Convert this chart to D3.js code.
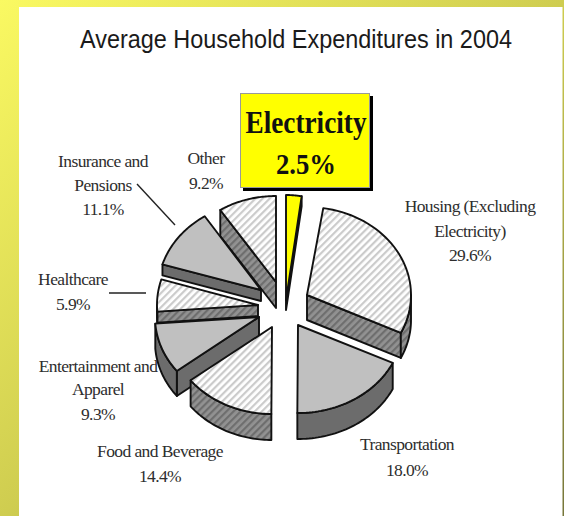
<!DOCTYPE html>
<html>
<head>
<meta charset="utf-8">
<script src="https://cdn.jsdelivr.net/npm/d3@7"></script>
<style>
  html, body { margin: 0; padding: 0; background: #fff; }
  svg { display: block; }
  .label { font-family: "Liberation Serif", serif; font-size: 17.5px; fill: #2e2e2e; text-anchor: middle; letter-spacing: -0.6px; }
</style>
</head>
<body>
<div id="chart"></div>
<script>
// Household budget shares, clockwise from twelve o'clock
const categories = ["Electricity", "Housing", "Transportation", "Food and Beverage",
  "Entertainment and Apparel", "Healthcare", "Insurance and Pensions", "Other"];
const shares = [2.5, 29.6, 18.0, 14.4, 9.3, 5.9, 11.1, 9.2];
const chartTitle = "Average Household Expenditures in 2004";
const calloutLines = ["Electricity", "2.5%"];

// Wrapped label text for each category (the percentage is appended from shares)
const labelText = [
  [],
  ["Housing (Excluding", "Electricity)"],
  ["Transportation"],
  ["Food and Beverage"],
  ["Entertainment and", "Apparel"],
  ["Healthcare"],
  ["Insurance and", "Pensions"],
  ["Other"]
];

// Exploded position and extrusion of every wedge: [apexX, apexY, radiusX, radiusY, depth]
const wedgeLayout = [
  [286, 300, 100, 105, 10],
  [307, 295, 104, 88, 25],
  [298, 325, 105, 88, 26],
  [272, 327, 103, 87, 26],
  [259, 317, 104, 88, 25],
  [258, 305, 101, 88, 11],
  [261, 290, 103, 88, 11],
  [276, 282, 102, 86, 26]
];
const wedgeStyle = ["yellow", "hatch", "solid", "hatch", "solid", "hatch", "solid", "hatch"];
const paintOrder = [7, 6, 0, 1, 5, 4, 2, 3];

// Label anchors: [centerX, [baseline of each line]]
const labelAnchors = [
  null,
  [470, [212, 237, 261]],
  [407, [450, 476]],
  [160, [457, 482]],
  [98, [372, 395, 420]],
  [73, [285, 310]],
  [103, [167, 191, 215]],
  [206, [164, 189]]
];
const leaderLines = [
  [[137, 184], [175, 225]],
  [[109, 293], [146, 293]]
];

const width = 564, height = 516;
const svg = d3.select("#chart").append("svg").attr("width", width).attr("height", height);
const defs = svg.append("defs");

// Frame gradient
const frame = defs.append("linearGradient").attr("id", "frame")
  .attr("x1", 0).attr("y1", 0).attr("x2", 1).attr("y2", 1);
frame.append("stop").attr("offset", "0%").attr("stop-color", "#faf962");
frame.append("stop").attr("offset", "50%").attr("stop-color", "#cfcd50");
frame.append("stop").attr("offset", "100%").attr("stop-color", "#76763a");

function hatch(id, ground, stripe) {
  const p = defs.append("pattern").attr("id", id)
    .attr("patternUnits", "userSpaceOnUse")
    .attr("width", 5).attr("height", 5)
    .attr("patternTransform", "rotate(45)");
  p.append("rect").attr("width", 5).attr("height", 5).attr("fill", ground);
  p.append("rect").attr("width", 2.2).attr("height", 5).attr("fill", stripe);
}
hatch("topHatch", "#ffffff", "#cbcbcb");
hatch("wallHatch", "#929292", "#6e6e6e");

const faceFill = { yellow: "#ffff00", hatch: "url(#topHatch)", solid: "#c0c0c0" };
const wallFill = { yellow: "#77771a", hatch: "url(#wallHatch)", solid: "#6c6c6c" };

svg.append("rect").attr("width", width).attr("height", height).attr("fill", "url(#frame)");
svg.append("rect").attr("x", 19).attr("y", 7).attr("width", 543.5).attr("height", height).attr("fill", "#fff");

svg.append("text").attr("x", 296).attr("y", 48)
  .attr("text-anchor", "middle")
  .attr("font-family", "'Liberation Sans', sans-serif")
  .attr("font-size", 26).attr("fill", "#1a1a1a")
  .attr("textLength", 432).attr("lengthAdjust", "spacingAndGlyphs")
  .text(chartTitle);

const arcs = d3.pie().sort(null).value(d => d).startAngle(0).endAngle(2 * Math.PI)(shares);
const line = d3.line();
const pointAt = (g, a, drop = 0) => [g[0] + g[2] * Math.sin(a), g[1] - g[3] * Math.cos(a) + drop];
const sweep = (a0, a1) => d3.range(0, 41).map(i => a0 + (a1 - a0) * i / 40);

const pieLayer = svg.append("g")
  .attr("stroke", "#111").attr("stroke-width", 1.9).attr("stroke-linejoin", "round");

paintOrder.forEach(i => {
  const arc = arcs[i], g = wedgeLayout[i], style = wedgeStyle[i];
  const apex = [g[0], g[1]], depth = g[4];
  const a0 = arc.startAngle, a1 = arc.endAngle;

  const wall = pts => pieLayer.append("path")
    .attr("d", line(pts) + "Z").attr("fill", wallFill[style]);

  // Radial cut walls that face the viewer
  [[a0, -Math.sin(a0)], [a1, Math.sin(a1)]].forEach(([a, facing]) => {
    if (facing > 0.01) {
      const rim = pointAt(g, a);
      wall([apex, rim, [rim[0], rim[1] + depth], [apex[0], apex[1] + depth]]);
    }
  });

  // Rim wall on the front half of the ellipse
  const lo = Math.max(a0, Math.PI / 2), hi = Math.min(a1, 3 * Math.PI / 2);
  if (hi > lo) {
    const along = sweep(lo, hi);
    wall(along.map(a => pointAt(g, a)).concat(along.slice().reverse().map(a => pointAt(g, a, depth))));
  }

  // Top face
  pieLayer.append("path")
    .attr("d", line([apex].concat(sweep(a0, a1).map(a => pointAt(g, a)))) + "Z")
    .attr("fill", faceFill[style]);
});

// Callout box for the highlighted category
const box = svg.append("g");
box.append("rect").attr("x", 243).attr("y", 96).attr("width", 130).attr("height", 95).attr("fill", "#000");
box.append("rect").attr("x", 240.5).attr("y", 93.5).attr("width", 129).attr("height", 94)
  .attr("fill", "#ffff00").attr("stroke", "#999").attr("stroke-width", 1);
box.selectAll("text").data(calloutLines).join("text")
  .attr("x", 306).attr("y", (d, i) => i === 0 ? 133 : 174)
  .attr("text-anchor", "middle")
  .attr("font-family", "'Liberation Serif', serif").attr("font-weight", "bold")
  .attr("font-size", (d, i) => i === 0 ? 31 : 29)
  .attr("textLength", (d, i) => i === 0 ? 121 : 60)
  .attr("lengthAdjust", "spacingAndGlyphs")
  .attr("fill", "#111")
  .text(d => d);

// Category labels
categories.forEach((name, i) => {
  const anchor = labelAnchors[i];
  if (!anchor) return;
  const lines = labelText[i].concat(d3.format(".1f")(shares[i]) + "%");
  svg.append("g").selectAll("text").data(lines).join("text")
    .attr("class", "label")
    .attr("x", anchor[0])
    .attr("y", (d, k) => anchor[1][k])
    .text(d => d);
});

svg.append("g").selectAll("path").data(leaderLines).join("path")
  .attr("d", d => line(d))
  .attr("stroke", "#222").attr("stroke-width", 1.4).attr("fill", "none");
</script>
</body>
</html>
